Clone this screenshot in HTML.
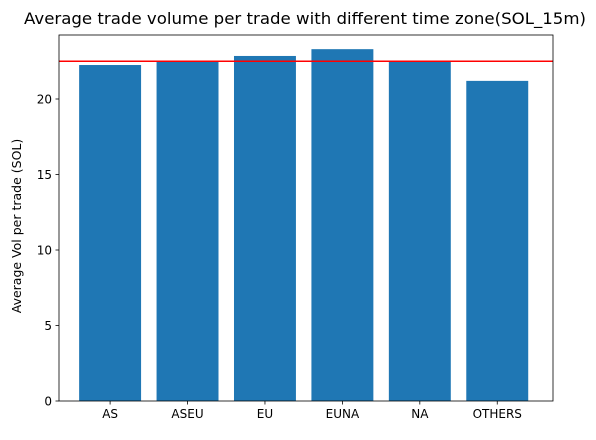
<!DOCTYPE html>
<html><head><meta charset="utf-8"><style>
body{margin:0;background:#fff;font-family:"Liberation Sans","DejaVu Sans",sans-serif}
</style></head><body>
<svg width="596" height="435" xmlns="http://www.w3.org/2000/svg" font-family="DejaVu Sans, Liberation Sans, sans-serif">
<rect width="596" height="435" fill="#fff"/>
<text x="305" y="24" font-size="16" textLength="562" lengthAdjust="spacingAndGlyphs" text-anchor="middle">Average trade volume per trade with different time zone(SOL_15m)</text>
<text transform="translate(21,226) rotate(-90)" font-size="12.5" text-anchor="middle">Average Vol per trade (SOL)</text>
</svg>
<script>
const categories=["AS","ASEU","EU","EUNA","NA","OTHERS"];
const values=[22.25,22.5,22.85,23.3,22.5,21.2];
const refValue=[22.5];
const yTicks=[0,5,10,15,20];
const L=59,R=553,T=35,B=401;
const xmin=-0.66,xmax=5.72;
const ymax=(B-T)/15.1;
const ns="http://www.w3.org/2000/svg";
function X(v){return L+(v-xmin)/(xmax-xmin)*(R-L);}
function Y(v){return B-v/ymax*(B-T);}
const svg=document.querySelector('svg');
function mk(t,a,p){const e=document.createElementNS(ns,t);for(const k in a)e.setAttribute(k,a[k]);(p||svg).appendChild(e);return e;}
const bw=(X(0.4)-X(-0.4));
values.forEach((v,i)=>{
 const r=mk('rect',{x:X(i-0.4),y:Y(v),width:bw,height:B-Y(v),fill:'#1f77b4'});
 
 
 mk('line',{x1:X(i),x2:X(i),y1:B,y2:B+3.5,stroke:'#000','stroke-width':0.8});
 const t=mk('text',{x:X(i),y:B+17,'font-size':12,'text-anchor':'middle'});
 t.textContent=categories[i];
 
 
});
yTicks.forEach(v=>{
 mk('line',{x1:L-3.5,x2:L,y1:Y(v),y2:Y(v),stroke:'#000','stroke-width':0.8});
 const t=mk('text',{x:L-7,y:Y(v)+4.5,'font-size':12,'text-anchor':'end'});
 t.textContent=v;
 
 
});
const rl=mk('line',{x1:L,x2:R,y1:Y(refValue[0]),y2:Y(refValue[0]),stroke:'#ff0000','stroke-width':1.5});


const fr=mk('rect',{x:L,y:T,width:R-L,height:B-T,fill:'none',stroke:'#000','stroke-width':0.8});


</script>
</body></html>
